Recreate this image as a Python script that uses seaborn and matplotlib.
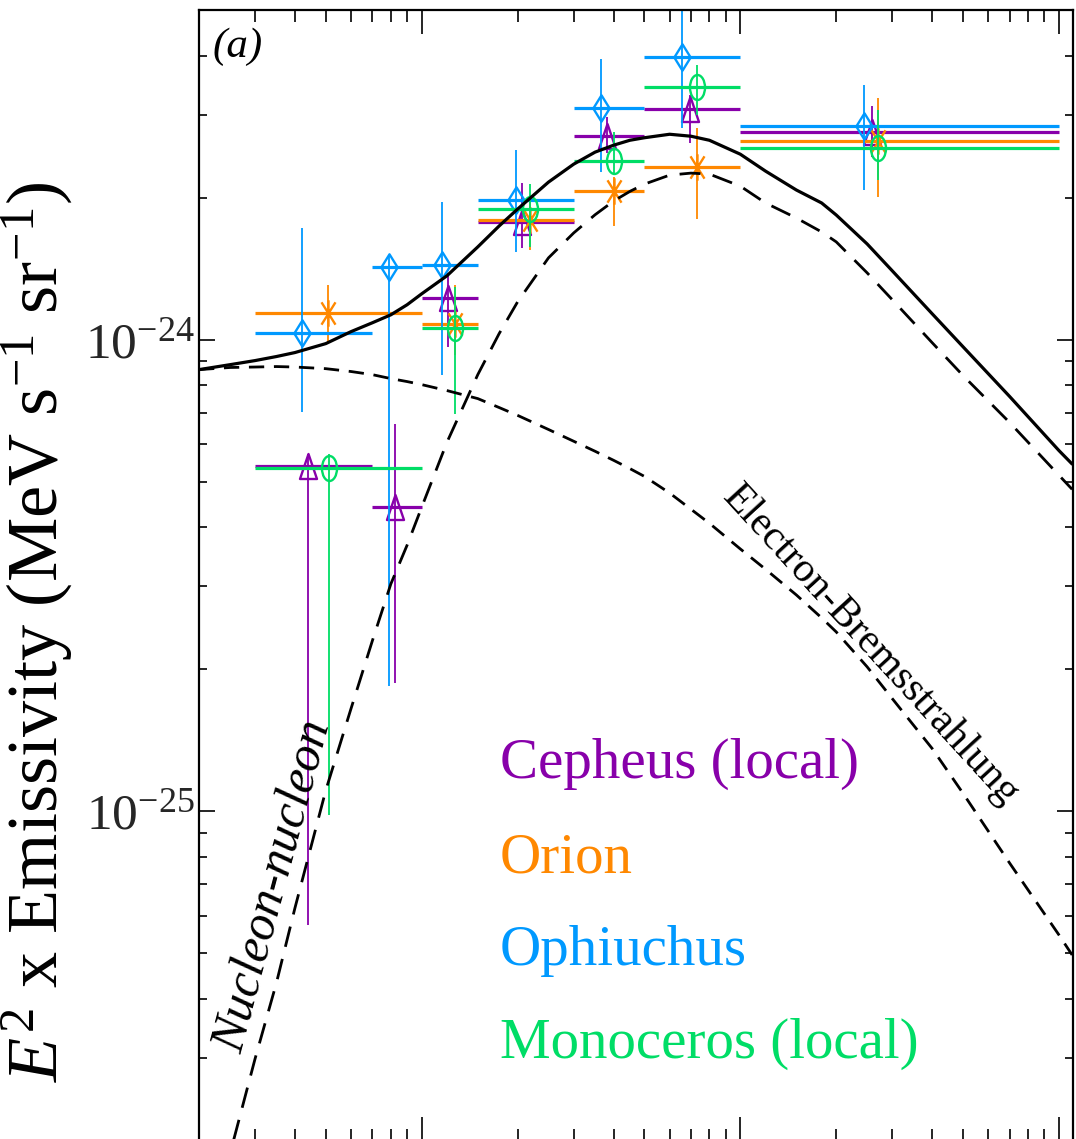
import numpy as np
import matplotlib
matplotlib.use("Agg")
import matplotlib.pyplot as plt
from matplotlib import ticker
from matplotlib.path import Path
from matplotlib.transforms import Affine2D
import seaborn as sns

# ---------------------------------------------------------------------------
# Model curves: E^2 x emissivity in units of 1e-24 MeV s^-1 sr^-1, E in MeV
# ---------------------------------------------------------------------------
UNIT = 1e-24

energy = [20, 25, 30, 35, 40, 50, 60, 70, 80, 90, 100, 120, 150, 175, 200, 250,
          300, 350, 400, 450, 500, 600, 700, 800, 1000, 1200, 1500, 1800, 2000,
          2500, 3000, 4000, 5000, 7000, 10000, 11000]
total = [0.864, 0.885, 0.903, 0.921, 0.939, 0.981, 1.040, 1.086, 1.129, 1.186,
         1.251, 1.366, 1.573, 1.742, 1.892, 2.158, 2.356, 2.498, 2.584, 2.647,
         2.680, 2.726, 2.700, 2.647, 2.473, 2.277, 2.076, 1.949, 1.838, 1.596,
         1.399, 1.135, 0.966, 0.758, 0.582, 0.545]
bremsstrahlung = [0.864, 0.873, 0.875, 0.877, 0.875, 0.868, 0.856, 0.843, 0.827,
                  0.815, 0.803, 0.780, 0.750, 0.718, 0.691, 0.645, 0.609, 0.580,
                  0.555, 0.533, 0.513, 0.473, 0.437, 0.408, 0.360, 0.326, 0.2875,
                  0.2571, 0.2401, 0.2025, 0.1733, 0.1359, 0.1092, 0.0777, 0.0547,
                  0.0496]
nn_energy = energy[1:]
nucleon = [0.01874, 0.02990, 0.04328, 0.06234, 0.1108, 0.1651, 0.2299, 0.3034,
           0.3668, 0.4414, 0.6058, 0.8433, 1.030, 1.203, 1.491, 1.684, 1.840,
           1.967, 2.062, 2.137, 2.233, 2.255, 2.244, 2.116, 1.949, 1.811, 1.692,
           1.612, 1.386, 1.215, 0.9855, 0.8393, 0.6676, 0.5159, 0.4817]

# ---------------------------------------------------------------------------
# Measured emissivities per cloud (value, lower / upper bound, energy bin)
# ---------------------------------------------------------------------------
cep_energy = [43.9, 82.3, 120.7, 206.1, 381, 694, 2587]
cep_bin_lo = [30, 70, 100, 150, 300, 500, 1000]
cep_bin_hi = [70, 100, 150, 300, 500, 1000, 10000]
cep_value = [0.539, 0.441, 1.227, 1.776, 2.700, 3.078, 2.753]
cep_low = [0.0574, 0.187, 0.966, 1.565, 2.485, 2.609, 2.437]
cep_high = [0.571, 0.661, 1.386, 2.147, 2.961, 3.296, 3.124]

ori_energy = [50.7, 126.9, 218.3, 400.6, 730, 2703]
ori_bin_lo = [30, 100, 150, 300, 500, 1000]
ori_bin_hi = [100, 150, 300, 500, 1000, 10000]
ori_value = [1.140, 1.081, 1.794, 2.065, 2.322, 2.634]
ori_low = [0.990, 0.93, 1.55, 1.742, 1.803, 2.006]
ori_high = [1.307, 1.307, 2.026, 2.211, 2.807, 3.249]

oph_energy = [42.0, 78.8, 115.6, 197.3, 364.8, 655, 2441]
oph_bin_lo = [30, 70, 100, 150, 300, 500, 1000]
oph_bin_hi = [70, 100, 150, 300, 500, 1000, 10000]
oph_value = [1.035, 1.427, 1.441, 1.977, 3.094, 3.966, 2.835]
oph_low = [0.704, 0.1847, 0.843, 1.535, 2.266, 2.807, 2.076]
oph_high = [1.725, 1.512, 1.958, 2.522, 3.927, 5.6, 3.460]

mon_energy = [51.0, 126.9, 218.3, 400.6, 730, 2703]
mon_bin_lo = [30, 100, 150, 300, 500, 1000]
mon_bin_hi = [100, 150, 300, 500, 1000, 10000]
mon_value = [0.535, 1.060, 1.892, 2.390, 3.426, 2.546]
mon_low = [0.0981, 0.694, 1.573, 2.254, 2.990, 2.179]
mon_high = [0.571, 1.294, 2.137, 2.753, 3.815, 3.064]

region_names = ["Cepheus (local)", "Orion", "Ophiuchus", "Monoceros (local)"]
region_colors = ["#8800AA", "#FF8800", "#0099FF", "#00DD66"]

y_major = [1e-25, 1e-24]

# ---------------------------------------------------------------------------
# Style
# ---------------------------------------------------------------------------
sns.set_theme(style="ticks")
plt.rcParams["font.family"] = ["Liberation Serif", "DejaVu Serif"]
plt.rcParams["mathtext.fontset"] = "custom"
plt.rcParams["mathtext.rm"] = "Liberation Serif"
plt.rcParams["mathtext.it"] = "Liberation Serif:italic"
plt.rcParams["mathtext.bf"] = "Liberation Serif:bold"
plt.rcParams["axes.facecolor"] = "white"
plt.rcParams["figure.facecolor"] = "white"

# open marker shapes
tri_marker = Path([(0, 1), (-0.68, -1), (0.68, -1), (0, 1)],
                  [Path.MOVETO, Path.LINETO, Path.LINETO, Path.CLOSEPOLY])
dia_marker = Path([(0, 1), (-0.62, 0), (0, -1), (0.62, 0), (0, 1)],
                  [Path.MOVETO, Path.LINETO, Path.LINETO, Path.LINETO, Path.CLOSEPOLY])
ell_marker = Affine2D().scale(0.6, 1.0).transform_path(Path.unit_circle())
ca, sa = np.cos(np.radians(58)), np.sin(np.radians(58))
ast_marker = Path([(0, -1), (0, 1), (-ca, -sa), (ca, sa), (-ca, sa), (ca, -sa)],
                  [Path.MOVETO, Path.LINETO] * 3)

fig = plt.figure(figsize=(10.76, 11.39), dpi=100)
ax = fig.add_axes([199 / 1076, 1 - 1141 / 1139, 874 / 1076, 1131 / 1139])
ax.set_xscale("log")
ax.set_yscale("log")


def draw_region(e, lo_bin, hi_bin, val, low, high, color, marker, ms, z):
    e = np.asarray(e, float)
    val = np.asarray(val) * UNIT
    ax.hlines(val, lo_bin, hi_bin, colors=color, lw=2.3, zorder=z)
    ax.vlines(e, np.asarray(low) * UNIT, np.asarray(high) * UNIT,
              colors=color, lw=1.3, zorder=z)
    ax.plot(e, val, ls="none", marker=marker, ms=ms, mfc="none", mec=color,
            mew=1.7, zorder=z + 0.1)


draw_region(cep_energy, cep_bin_lo, cep_bin_hi, cep_value, cep_low, cep_high,
            region_colors[0], tri_marker, 18, 2)
draw_region(ori_energy, ori_bin_lo, ori_bin_hi, ori_value, ori_low, ori_high,
            region_colors[1], ast_marker, 19, 2.2)
draw_region(oph_energy, oph_bin_lo, oph_bin_hi, oph_value, oph_low, oph_high,
            region_colors[2], dia_marker, 19, 2.4)
draw_region(mon_energy, mon_bin_lo, mon_bin_hi, mon_value, mon_low, mon_high,
            region_colors[3], ell_marker, 18, 2.6)

# model curves
sns.lineplot(x=np.array(energy), y=np.array(total) * UNIT, ax=ax, color="black",
             lw=2.3, sort=False, estimator=None, zorder=5)
sns.lineplot(x=np.array(energy), y=np.array(bremsstrahlung) * UNIT, ax=ax,
             color="black", lw=2.0, sort=False, estimator=None, zorder=5)
ax.lines[-1].set_dashes((5.5, 3.5))
sns.lineplot(x=np.array(nn_energy), y=np.array(nucleon) * UNIT, ax=ax,
             color="black", lw=2.0, sort=False, estimator=None, zorder=5)
ax.lines[-1].set_dashes((7.5, 4.5))

ax.set_xlim(20, 11070)
ax.set_ylim(2e-26, 5e-24)

# ticks
ax.xaxis.set_major_locator(ticker.LogLocator(base=10))
ax.xaxis.set_major_formatter(ticker.NullFormatter())
ax.yaxis.set_major_locator(ticker.FixedLocator(y_major))
ax.yaxis.set_major_formatter(ticker.FuncFormatter(
    lambda v, p: r"$10^{%d}$" % int(round(np.log10(v)))))
for axis in (ax.xaxis, ax.yaxis):
    axis.set_minor_locator(ticker.LogLocator(base=10, subs=np.arange(2, 10)))
    axis.set_minor_formatter(ticker.NullFormatter())
ax.tick_params(axis="x", which="major", direction="in", length=17, width=1.2,
               top=True, bottom=True, labelbottom=False, color="black")
ax.tick_params(axis="x", which="minor", direction="in", length=8.5, width=1.2,
               top=True, bottom=True, color="black")
ax.tick_params(axis="y", which="major", direction="in", length=11.5, width=1.2,
               left=True, right=True, labelsize=37, pad=3, color="black")
ax.tick_params(axis="y", which="minor", direction="in", length=5.8, width=1.2,
               left=True, right=True, color="black")
for sp in ax.spines.values():
    sp.set_linewidth(1.6)
    sp.set_color("black")
    sp.set_visible(True)

ax.set_xlabel("")
ax.set_ylabel(r"$E^2$ x Emissivity (MeV s$^{-1}$ sr$^{-1}$)", fontsize=52,
              color="black")
ax.yaxis.set_label_coords(-0.142, 0.45)

# annotations
ax.text(0.016, 0.9585, "(a)", transform=ax.transAxes, fontsize=31,
        style="italic", ha="left", va="baseline", color="black")
ax.text(0.7689, 0.4385, "Electron-Bremsstrahlung", transform=ax.transAxes,
        fontsize=30, rotation=-47.5, rotation_mode="anchor", ha="center",
        va="center", color="black")
ax.text(0.0864, 0.225, "Nucleon-nucleon", transform=ax.transAxes, fontsize=36,
        style="italic", rotation=75, rotation_mode="anchor", ha="center",
        va="center", color="black")

legend_y = [0.3210, 0.2378, 0.1556, 0.0734]
for name, col, yy in zip(region_names, region_colors, legend_y):
    ax.text(0.3444, yy, name, transform=ax.transAxes, fontsize=41, color=col,
            ha="left", va="baseline")

fig.savefig("out.png", dpi=100)
